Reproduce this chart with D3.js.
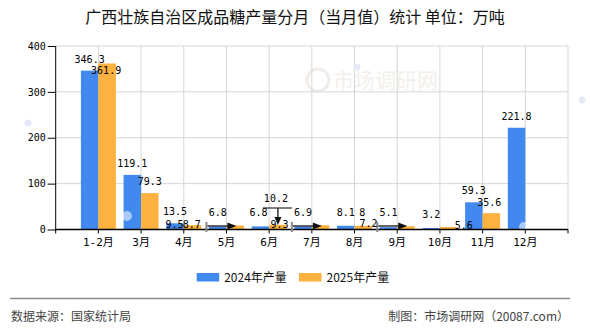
<!DOCTYPE html>
<html>
<head>
<meta charset="utf-8">
<script src="https://cdn.jsdelivr.net/npm/d3@7"></script>
<style>
  body { margin: 0; background: #fff; }
  svg { display: block; }
  .num { font-family: "DejaVu Sans Mono", "Noto Sans CJK SC", monospace; font-size: 10px; fill: #000; }
  .cjk { font-family: "Noto Sans CJK SC", sans-serif; }
</style>
</head>
<body>
<div id="chart"></div>
<script>
// data
let categories = ["1-2月", "3月", "4月", "5月", "6月", "7月", "8月", "9月", "10月", "11月", "12月"];
let seriesNames = ["2024年产量", "2025年产量"];
let values2024 = [346.3, 119.1, 13.5, 6.8, 6.8, 6.9, 8.1, 5.1, 3.2, 59.3, 221.8];
let values2025 = [361.9, 79.3, 9.5, 8.7, 10.2, 9.3, 8, 7.2, 5.6, 35.6, null];
let yTicks = [0, 100, 200, 300, 400];

const W = 590, H = 330;
const COLORS = ["#4189ee", "#fdb13e"];

// label shifts where the original labels got pushed around (series|category -> [dx, dy])
const labelShift = {
    "1|1-2月": [-1, 19],
    "1|4月": [-18, 11],
    "1|5月": [-43.5, 10.5],
    "0|5月": [0, -2.7],
    "0|6月": [-2, -2.7],
    "1|6月": [-2, -14.5],
    "1|7月": [-41, 11],
    "0|7月": [0, -2.6],
    "0|8月": [0, -2],
    "1|8月": [-1, -2],
    "1|9月": [-37.5, 9],
    "0|9月": [0, -3.5],
    "0|10月": [0, -2.3],
    "1|10月": [15, 10.5],
    "1|11月": [-2, 1]
};
let rightArrows = ["5月", "7月", "9月"];
let downArrows = ["6月"];

let svg = d3.select("#chart").append("svg")
    .attr("width", W)
    .attr("height", H);

const x = d3.scalePoint()
    .domain(categories)
    .range([55.7, 568])
    .padding(1);

const y = d3.scaleLinear()
    .domain([0, 400])
    .range([229.5, 46]);

const step = x.step();
const bw = 17.5;
let slots = d3.range(categories.length + 2).map(i => x.range()[0] + i * step);

// watermark
let wm = svg.append("g").attr("class", "watermark");
wm.append("circle").attr("cx", 318).attr("cy", 80).attr("r", 11)
    .attr("fill", "none").attr("stroke", "#f1ece8").attr("stroke-width", 3);
wm.append("text").attr("class", "cjk")
    .attr("x", 333).attr("y", 88)
    .attr("font-size", 21)
    .attr("fill", "#f3efeb")
    .text("市场调研网");

// grid
svg.append("g")
    .selectAll("line.h")
    .data(yTicks.filter(d => d > 0))
    .enter().append("line")
    .attr("x1", 55.7).attr("x2", 568)
    .attr("y1", d => y(d)).attr("y2", d => y(d))
    .attr("stroke", "#d6d6d6");

svg.append("g")
    .selectAll("line.v")
    .data(slots.slice(1))
    .enter().append("line")
    .attr("x1", d => d).attr("x2", d => d)
    .attr("y1", y(400)).attr("y2", y(0))
    .attr("stroke", "#d6d6d6");

// faint decorations
[[28, 123, "#e4e9f7"], [357, 67, "#e6eaf6"], [582, 100, "#e6eaf6"]].forEach(c => {
    svg.append("circle").attr("cx", c[0]).attr("cy", c[1]).attr("r", 3.5).attr("fill", c[2]);
});

// bars
let series = [values2024, values2025];
series.forEach((vals, si) => {
    svg.append("g")
        .selectAll("rect")
        .data(categories.map((c, i) => ({ c: c, v: vals[i] })).filter(d => d.v != null))
        .enter().append("rect")
        .attr("x", d => x(d.c) + (si === 0 ? -bw : 0))
        .attr("width", bw)
        .attr("y", d => y(d.v))
        .attr("height", d => y(0) - y(d.v))
        .attr("fill", COLORS[si]);
});

// white blur blobs on bars
svg.append("circle").attr("cx", 127).attr("cy", 216).attr("r", 5).attr("fill", "#fff").attr("opacity", 0.55);
svg.append("circle").attr("cx", 524).attr("cy", 227).attr("r", 5).attr("fill", "#fff").attr("opacity", 0.55);

// axes
let yAxis = d3.axisLeft(y).tickValues(yTicks).tickSize(8).tickPadding(2);
svg.append("g")
    .attr("transform", "translate(55.7,0)")
    .call(yAxis)
    .call(g => g.select(".domain").remove())
    .call(g => g.selectAll("text").attr("class", "num").attr("fill", "#000"));

svg.append("line")
    .attr("x1", 55.7).attr("x2", 55.7)
    .attr("y1", y(400)).attr("y2", y(0) + 1)
    .attr("stroke", "#000");

svg.append("line")
    .attr("x1", 55.7).attr("x2", 568)
    .attr("y1", y(0)).attr("y2", y(0))
    .attr("stroke", "#000").attr("stroke-width", 1.5);

svg.append("g")
    .selectAll("line")
    .data(slots)
    .enter().append("line")
    .attr("x1", d => d).attr("x2", d => d)
    .attr("y1", y(0)).attr("y2", y(0) + 4)
    .attr("stroke", "#000");

svg.append("g")
    .selectAll("text")
    .data(categories)
    .enter().append("text")
    .attr("class", "num")
    .attr("font-size", 11)
    .attr("x", d => x(d))
    .attr("y", 245.5)
    .attr("text-anchor", "middle")
    .style("font-size", "11px")
    .text(d => d);

// arrow markers
let arrowG = svg.append("g");
rightArrows.forEach(c => {
    let cx = x(c), ay = 226;
    arrowG.append("line").attr("x1", cx - 20).attr("x2", cx - 20).attr("y1", 222).attr("y2", 232)
        .attr("stroke", "#8a8a8a").attr("stroke-width", 2);
    arrowG.append("line").attr("x1", cx - 19).attr("x2", cx + 2).attr("y1", ay).attr("y2", ay)
        .attr("stroke", "#333").attr("stroke-width", 1.5);
    arrowG.append("path")
        .attr("d", `M${cx + 1},${ay - 3.5}L${cx + 10},${ay}L${cx + 1},${ay + 3.5}Z`)
        .attr("fill", "#111");
});
downArrows.forEach(c => {
    let cx = x(c) + bw / 2;
    arrowG.append("line").attr("x1", cx - 15).attr("x2", cx + 14).attr("y1", 208).attr("y2", 208)
        .attr("stroke", "#555").attr("stroke-width", 1.5);
    arrowG.append("line").attr("x1", cx).attr("x2", cx).attr("y1", 208).attr("y2", 218)
        .attr("stroke", "#333").attr("stroke-width", 1.5);
    arrowG.append("path")
        .attr("d", `M${cx - 3.5},${217}L${cx},${225}L${cx + 3.5},${217}Z`)
        .attr("fill", "#111");
});

// value labels
series.forEach((vals, si) => {
    svg.append("g")
        .selectAll("text")
        .data(categories.map((c, i) => ({ c: c, v: vals[i] })).filter(d => d.v != null))
        .enter().append("text")
        .attr("class", "num")
        .attr("text-anchor", "middle")
        .attr("x", d => x(d.c) + (si === 0 ? -bw / 2 : bw / 2) + (labelShift[si + "|" + d.c] || [0, 0])[0])
        .attr("y", d => y(d.v) - 8 + (labelShift[si + "|" + d.c] || [0, 0])[1])
        .text(d => String(d.v));
});

// title
svg.append("text")
    .attr("class", "cjk")
    .attr("x", 295).attr("y", 23)
    .attr("text-anchor", "middle")
    .attr("font-size", 16)
    .attr("fill", "#111")
    .text("广西壮族自治区成品糖产量分月（当月值）统计 单位：万吨");

// legend
let legendX = [196.7, 299];
seriesNames.forEach((name, i) => {
    svg.append("rect")
        .attr("x", legendX[i]).attr("y", 273)
        .attr("width", 22.5).attr("height", 8.5)
        .attr("fill", COLORS[i]);
    svg.append("text")
        .attr("class", "cjk")
        .attr("x", legendX[i] + 27.5).attr("y", 282)
        .attr("font-size", 12)
        .attr("fill", "#111")
        .text(name);
});

// footer
svg.append("line")
    .attr("x1", 10).attr("x2", 570)
    .attr("y1", 298.5).attr("y2", 298.5)
    .attr("stroke", "#8c8c8c").attr("stroke-width", 1.5);

svg.append("text")
    .attr("class", "cjk")
    .attr("x", 11).attr("y", 321)
    .attr("font-size", 12)
    .attr("fill", "#444")
    .text("数据来源：国家统计局");

svg.append("text")
    .attr("class", "cjk")
    .attr("x", 569).attr("y", 321)
    .attr("text-anchor", "end")
    .attr("font-size", 12)
    .attr("fill", "#444")
    .text("制图：市场调研网（20087.com）");
</script>
</body>
</html>
